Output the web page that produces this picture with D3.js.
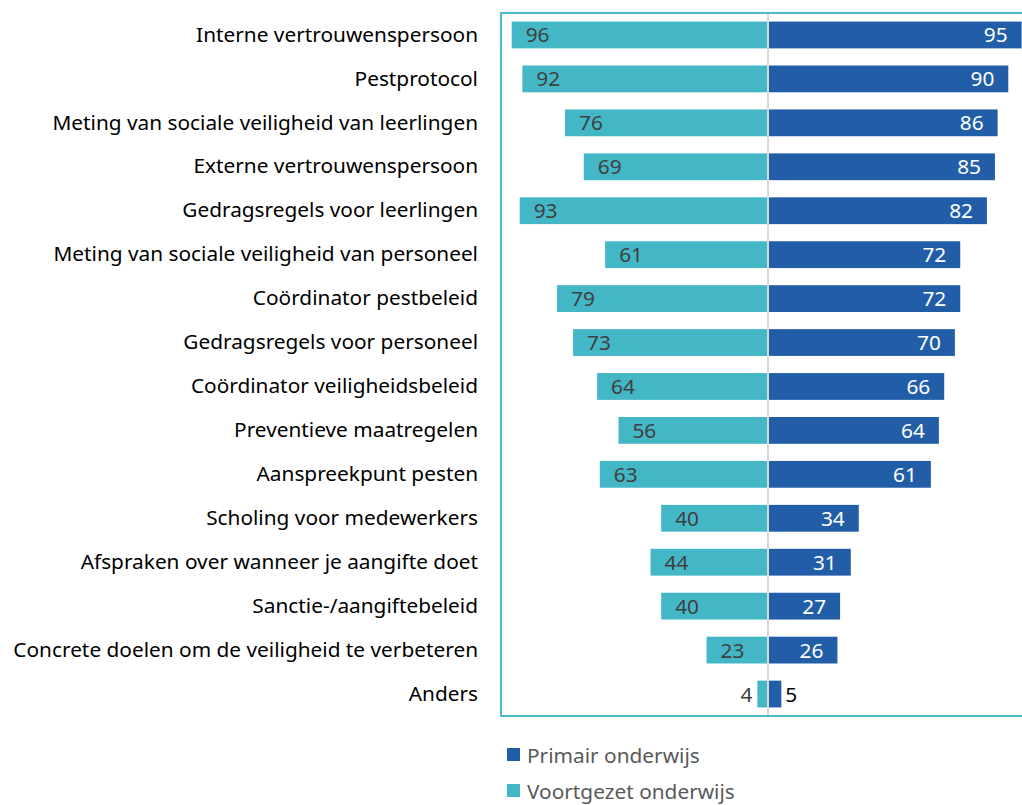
<!DOCTYPE html>
<html>
<head>
<meta charset="utf-8">
<script src="https://cdn.jsdelivr.net/npm/d3@7"></script>
<style>
  body { margin: 0; background: #fff; }
  svg { display: block; font-family: "Noto Sans", sans-serif; }
</style>
</head>
<body>
<svg id="chart"></svg>
<script>
// ---- data ----
const categories = [
  "Interne vertrouwenspersoon",
  "Pestprotocol",
  "Meting van sociale veiligheid van leerlingen",
  "Externe vertrouwenspersoon",
  "Gedragsregels voor leerlingen",
  "Meting van sociale veiligheid van personeel",
  "Coördinator pestbeleid",
  "Gedragsregels voor personeel",
  "Coördinator veiligheidsbeleid",
  "Preventieve maatregelen",
  "Aanspreekpunt pesten",
  "Scholing voor medewerkers",
  "Afspraken over wanneer je aangifte doet",
  "Sanctie-/aangiftebeleid",
  "Concrete doelen om de veiligheid te verbeteren",
  "Anders"
];
const primair = [95, 90, 86, 85, 82, 72, 72, 70, 66, 64, 61, 34, 31, 27, 26, 5];
const voortgezet = [96, 92, 76, 69, 93, 61, 79, 73, 64, 56, 63, 40, 44, 40, 23, 4];
const seriesNames = ["Primair onderwijs", "Voortgezet onderwijs"];
const colors = { primair: "#225ea8", voortgezet: "#43b7c6" };

// ---- chart ----
const width = 1022, height = 805;
const svg = d3.select("#chart").attr("width", width).attr("height", height);

// fit the font so the longest label spans like the original (~465px)
const probe = svg.append("text").attr("font-size", 19)
  .text("Concrete doelen om de veiligheid te verbeteren");
const fs = Math.min(21, 19 * 465 / probe.node().getComputedTextLength());
probe.remove();

const plotTop = 13, plotBottom = 716;
const x = d3.scaleLinear().domain([-100, 100]).range([501, 1035]);
const y = d3.scaleBand().domain(categories).range([plotTop, plotBottom]).paddingInner(0.39).paddingOuter(0.195);

const rows = categories.map((c, i) => ({ cat: c, p: primair[i], v: voortgezet[i] }));

// bars left (voortgezet)
svg.selectAll("rect.vo").data(rows).enter().append("rect")
  .attr("class", "vo")
  .attr("x", d => x(-d.v))
  .attr("y", d => y(d.cat))
  .attr("width", d => x(0) - x(-d.v))
  .attr("height", y.bandwidth())
  .attr("fill", colors.voortgezet);

// bars right (primair)
svg.selectAll("rect.po").data(rows).enter().append("rect")
  .attr("class", "po")
  .attr("x", x(0))
  .attr("y", d => y(d.cat))
  .attr("width", d => x(d.p) - x(0))
  .attr("height", y.bandwidth())
  .attr("fill", colors.primair);

// center line
svg.append("line")
  .attr("x1", x(0)).attr("x2", x(0))
  .attr("y1", plotTop).attr("y2", plotBottom)
  .attr("stroke", "#d9d9d9").attr("stroke-width", 2);

// plot border
svg.append("rect")
  .attr("x", x(-100)).attr("y", plotTop)
  .attr("width", x(100) - x(-100)).attr("height", plotBottom - plotTop)
  .attr("fill", "none").attr("stroke", "#4bbac8").attr("stroke-width", 2);

// value labels
const small = 10;
svg.selectAll("text.vl").data(rows).enter().append("text")
  .attr("class", "vl")
  .attr("x", d => d.v < small ? x(-d.v) - 5 : x(-d.v) + 14)
  .attr("y", d => y(d.cat) + y.bandwidth() / 2)
  .attr("dy", "0.36em")
  .attr("text-anchor", d => d.v < small ? "end" : "start")
  .attr("font-size", fs)
  .attr("fill", "#404040")
  .text(d => d.v);

svg.selectAll("text.pl").data(rows).enter().append("text")
  .attr("class", "pl")
  .attr("x", d => d.p < small ? x(d.p) + 4 : x(d.p) - 14)
  .attr("y", d => y(d.cat) + y.bandwidth() / 2)
  .attr("dy", "0.36em")
  .attr("text-anchor", d => d.p < small ? "start" : "end")
  .attr("font-size", fs)
  .attr("fill", d => d.p < small ? "#000" : "#fff")
  .text(d => d.p);

// category axis
const yAxis = svg.append("g")
  .attr("transform", "translate(478,0)")
  .call(d3.axisLeft(y).tickSize(0).tickPadding(0));
yAxis.select(".domain").remove();
yAxis.selectAll("text")
  .attr("font-family", "'Noto Sans', sans-serif")
  .attr("font-size", fs)
  .attr("fill", "#000");

// legend
const legend = svg.append("g");
const legendItems = [
  { name: seriesNames[0], color: colors.primair },
  { name: seriesNames[1], color: colors.voortgezet }
];
legend.selectAll("g").data(legendItems).enter().append("g")
  .attr("transform", (d, i) => `translate(507,${748 + i * 36})`)
  .each(function(d) {
    const g = d3.select(this);
    g.append("rect").attr("width", 13).attr("height", 13).attr("fill", d.color);
    g.append("text").attr("x", 20).attr("y", 7).attr("dy", "0.36em")
      .attr("font-size", fs).attr("fill", "#595959").text(d.name);
  });
</script>
</body>
</html>
